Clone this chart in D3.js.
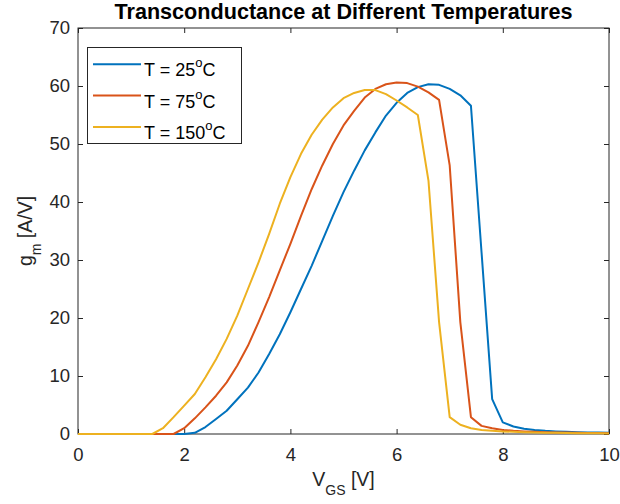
<!DOCTYPE html>
<html>
<head>
<meta charset="utf-8">
<script src="https://cdn.jsdelivr.net/npm/d3@7"></script>
<style>
  body { margin: 0; background: #fff; }
  text { font-family: "Liberation Sans", Arial, sans-serif; }
</style>
</head>
<body>
<script>
// gate voltage samples, 0..10 V in 0.2 V steps
var vgs = [0, 0.2, 0.4, 0.6, 0.8, 1.0, 1.2, 1.4, 1.6, 1.8,
  2.0, 2.2, 2.4, 2.6, 2.8, 3.0, 3.2, 3.4, 3.6, 3.8,
  4.0, 4.2, 4.4, 4.6, 4.8, 5.0, 5.2, 5.4, 5.6, 5.8,
  6.0, 6.2, 6.4, 6.6, 6.8, 7.0, 7.2, 7.4, 7.6, 7.8,
  8.0, 8.2, 8.4, 8.6, 8.8, 9.0, 9.2, 9.4, 9.6, 9.8, 10];

var gm25 = [0, 0, 0, 0, 0, 0, 0, 0, 0, 0,
  0, 0.2, 1.2, 2.6, 4.0, 6.0, 8.0, 10.6, 13.8, 17.2,
  21.0, 25.0, 29.0, 33.3, 37.6, 41.7, 45.4, 48.9, 52.0, 54.9,
  57.1, 58.8, 59.8, 60.3, 60.2, 59.5, 58.4, 56.6, 31.3, 6.0,
  2.0, 1.3, 0.9, 0.7, 0.55, 0.45, 0.38, 0.32, 0.28, 0.25, 0.22];

var gm75 = [0, 0, 0, 0, 0, 0, 0, 0, 0, 0,
  1.0, 2.7, 4.6, 6.6, 8.9, 11.8, 15.2, 19.3, 23.6, 28.2,
  32.8, 37.6, 42.2, 46.3, 50.0, 53.2, 55.7, 58.0, 59.5, 60.3,
  60.6, 60.5, 59.9, 58.9, 57.6, 46.3, 19.3, 2.9, 1.4, 1.0,
  0.7, 0.55, 0.45, 0.38, 0.32, 0.28, 0.24, 0.21, 0.19, 0.17, 0.15];

var gm150 = [0, 0, 0, 0, 0, 0, 0, 0, 1.0, 2.9,
  4.9, 6.9, 9.8, 12.9, 16.4, 20.4, 25.0, 29.6, 34.5, 39.7,
  44.3, 48.3, 51.6, 54.2, 56.3, 57.9, 58.8, 59.3, 59.3, 58.6,
  57.5, 56.3, 55.0, 43.7, 19.3, 2.9, 1.6, 1.0, 0.7, 0.55,
  0.45, 0.38, 0.32, 0.27, 0.23, 0.2, 0.17, 0.15, 0.13, 0.12, 0.1];

var seriesNames = ['25', '75', '150'];
var seriesColors = ['#0072BD', '#D95319', '#EDB120'];
var xTicks = [0, 2, 4, 6, 8, 10];
var yTicks = [0, 10, 20, 30, 40, 50, 60, 70];

var width = 620, height = 504;
// plot box edges (don't name these top/left: window.top is read-only)
var boxL = 78, boxR = 609, boxT = 28, boxB = 434;
var axisColor = '#262626';

var svg = d3.select('body')
  .append('svg')
  .attr('width', width)
  .attr('height', height);

var x = d3.scaleLinear().domain([0, 10]).range([boxL, boxR]);
var y = d3.scaleLinear().domain([0, 70]).range([boxB, boxT]);

// inward ticks on all four sides, MATLAB style
function styleAxis(g) {
  g.select('.domain').remove();
  g.selectAll('.tick line').attr('stroke', axisColor).attr('stroke-width', 1);
  g.selectAll('text')
    .attr('fill', axisColor)
    .attr('font-size', '18.5px');
}

svg.append('g')
  .attr('transform', 'translate(0,' + boxB + ')')
  .call(d3.axisBottom(x).tickValues(xTicks).tickSizeInner(-5).tickSizeOuter(0).tickPadding(14))
  .call(styleAxis);

svg.append('g')
  .attr('transform', 'translate(0,' + boxT + ')')
  .call(d3.axisTop(x).tickValues(xTicks).tickSizeInner(-5).tickSizeOuter(0).tickFormat(''))
  .call(styleAxis);

svg.append('g')
  .attr('transform', 'translate(' + boxL + ',0)')
  .call(d3.axisLeft(y).tickValues(yTicks).tickSizeInner(-5).tickSizeOuter(0).tickPadding(8))
  .call(styleAxis);

svg.append('g')
  .attr('transform', 'translate(' + boxR + ',0)')
  .call(d3.axisRight(y).tickValues(yTicks).tickSizeInner(-5).tickSizeOuter(0).tickFormat(''))
  .call(styleAxis);

// box
svg.append('rect')
  .attr('x', boxL)
  .attr('y', boxT)
  .attr('width', boxR - boxL)
  .attr('height', boxB - boxT)
  .attr('fill', 'none')
  .attr('stroke', axisColor)
  .attr('stroke-width', 1);

var line = d3.line()
  .x(function(d, i) { return x(vgs[i]); })
  .y(function(d) { return y(d); });

var allSeries = [gm25, gm75, gm150];

svg.append('g')
  .selectAll('path')
  .data(allSeries)
  .enter()
  .append('path')
  .attr('d', line)
  .attr('fill', 'none')
  .attr('stroke', function(d, i) { return seriesColors[i]; })
  .attr('stroke-width', 2)
  .attr('stroke-linejoin', 'round');

// title
svg.append('text')
  .attr('x', (boxL + boxR) / 2)
  .attr('y', 18.5)
  .attr('text-anchor', 'middle')
  .attr('font-size', '21.6px')
  .attr('font-weight', 'bold')
  .attr('fill', '#000')
  .text('Transconductance at Different Temperatures');

// x label: V_GS [V]
var xl = svg.append('text')
  .attr('x', (boxL + boxR) / 2)
  .attr('y', 486)
  .attr('text-anchor', 'middle')
  .attr('font-size', '19.5px')
  .attr('fill', axisColor);
xl.append('tspan').text('V');
xl.append('tspan').attr('font-size', '14px').attr('dy', 9).text('GS');
xl.append('tspan').attr('dy', -9).text(' [V]');

// y label: g_m [A/V]
var yl = svg.append('text')
  .attr('transform', 'translate(32,' + ((boxT + boxB) / 2) + ') rotate(-90)')
  .attr('text-anchor', 'middle')
  .attr('font-size', '19.5px')
  .attr('fill', axisColor);
yl.append('tspan').text('g');
yl.append('tspan').attr('font-size', '14px').attr('dy', 9).text('m');
yl.append('tspan').attr('dy', -9).text(' [A/V]');

// legend
var legend = svg.append('g');
legend.append('rect')
  .attr('x', 87.5)
  .attr('y', 47.5)
  .attr('width', 154)
  .attr('height', 96)
  .attr('fill', '#fff')
  .attr('stroke', axisColor)
  .attr('stroke-width', 1);

var rows = legend.selectAll('g.row')
  .data(seriesNames)
  .enter()
  .append('g')
  .attr('class', 'row')
  .attr('transform', function(d, i) { return 'translate(0,' + (64.3 + i * 31.3) + ')'; });

rows.append('line')
  .attr('x1', 93)
  .attr('x2', 141)
  .attr('y1', 0)
  .attr('y2', 0)
  .attr('stroke', function(d, i) { return seriesColors[i]; })
  .attr('stroke-width', 2);

var lt = rows.append('text')
  .attr('x', 144)
  .attr('y', 12)
  .attr('font-size', '18px')
  .attr('fill', '#000');
lt.append('tspan').text(function(d) { return 'T = ' + d; });
lt.append('tspan').attr('font-size', '13px').attr('dy', -9).text('o');
lt.append('tspan').attr('dy', 9).text('C');
</script>
</body>
</html>
